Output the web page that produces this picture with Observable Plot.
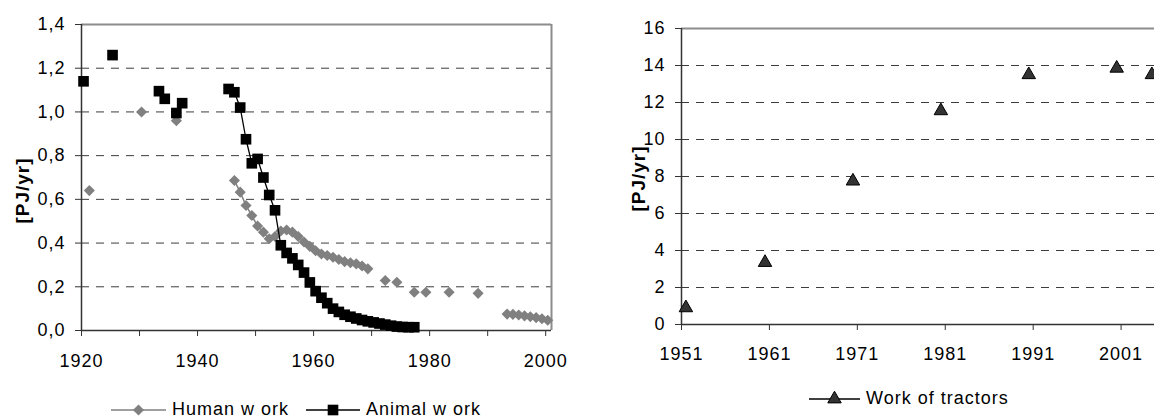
<!DOCTYPE html>
<html>
<head>
<meta charset="utf-8">
<script src="https://cdn.jsdelivr.net/npm/d3@7"></script>
<script src="https://cdn.jsdelivr.net/npm/@observablehq/plot@0.6"></script>
<style>
  html, body { margin: 0; padding: 0; background: #fff; overflow: hidden; }
  #figure { position: relative; width: 1154px; height: 419px; font-family: "Liberation Sans", Arial, sans-serif; }
  #left, #right, #legend { position: absolute; top: 0; }
  #left { left: 0; width: 570px; }
  #right { left: 570px; width: 584px; }
  #legend { left: 0; pointer-events: none; }
</style>
</head>
<body>
<div id="figure">
  <div id="left"></div>
  <div id="right"></div>
  <svg id="legend" width="1154" height="419"></svg>
</div>
<script>
// Human work, PJ/yr
const humanYears = [1921, 1930, 1936,
  1946, 1947, 1948, 1949, 1950, 1951, 1952, 1953, 1954, 1955, 1956, 1957,
  1958, 1959, 1960, 1961, 1962, 1963, 1964, 1965, 1966, 1967, 1968, 1969,
  1972, 1974, 1977, 1979, 1983, 1988,
  1993, 1994, 1995, 1996, 1997, 1998, 1999, 2000];
const humanWork = [0.64, 1.00, 0.96,
  0.686, 0.633, 0.572, 0.526, 0.478, 0.45, 0.42, 0.43, 0.455, 0.46, 0.45, 0.43,
  0.405, 0.385, 0.365, 0.35, 0.343, 0.335, 0.325, 0.315, 0.31, 0.305, 0.295, 0.282,
  0.229, 0.221, 0.175, 0.175, 0.175, 0.17,
  0.075, 0.074, 0.071, 0.067, 0.063, 0.059, 0.054, 0.047];

// Animal work, PJ/yr
const animalYears = [1920, 1925, 1933, 1934, 1936, 1937,
  1945, 1946, 1947, 1948, 1949, 1950, 1951, 1952, 1953, 1954, 1955, 1956,
  1957, 1958, 1959, 1960, 1961, 1962, 1963, 1964, 1965, 1966, 1967, 1968,
  1969, 1970, 1971, 1972, 1973, 1974, 1975, 1976, 1977];
const animalWork = [1.14, 1.26, 1.095, 1.06, 0.995, 1.04,
  1.105, 1.09, 1.02, 0.875, 0.765, 0.785, 0.70, 0.62, 0.55, 0.39, 0.355, 0.33,
  0.30, 0.265, 0.22, 0.18, 0.15, 0.125, 0.10, 0.085, 0.072, 0.063, 0.055, 0.048,
  0.042, 0.037, 0.032, 0.027, 0.022, 0.018, 0.016, 0.015, 0.015];

// Work of tractors, PJ/yr
const tractorYears = [1951, 1960, 1970, 1980, 1990, 2000, 2004];
const tractorWork = [0.9, 3.35, 7.75, 11.55, 13.5, 13.85, 13.5];

// Axis ticks
const leftYTicks = [0, 0.2, 0.4, 0.6, 0.8, 1.0, 1.2, 1.4];
const leftXTicks = [1920, 1930, 1940, 1950, 1960, 1970, 1980, 1990, 2000];
const leftXLabels = [1920, 1940, 1960, 1980, 2000];
const rightYTicks = [0, 2, 4, 6, 8, 10, 12, 14, 16];
const rightXTicks = [1951, 1961, 1971, 1981, 1991, 2001];

const seriesNames = ["Human w ork", "Animal w ork", "Work of tractors"];
const yTitle = "[PJ/yr]";

// annual values sit a little inside their year on the axis
const LEFT_SHIFT = 0.35;
const RIGHT_SHIFT = 0.5;

// marker radii (Plot symbol area = pi * r^2)
const R_DIAMOND = 5;
const R_SQUARE = 6;
const R_TRIANGLE = 5;

// rows with a NaN break wherever consecutive years are missing, so lines only join adjacent years
function rowsWithGaps(years, values) {
  const rows = [];
  years.forEach((yr, i) => {
    if (i > 0 && yr - years[i - 1] > 1) rows.push({year: NaN, value: NaN});
    rows.push({year: yr, value: values[i]});
  });
  return rows;
}
const humanRows = rowsWithGaps(humanYears, humanWork);
const animalRows = rowsWithGaps(animalYears, animalWork);
const tractorRows = tractorYears.map((yr, i) => ({year: yr, value: tractorWork[i]}));

const style = {
  fontFamily: "'Liberation Sans', Arial, sans-serif",
  fontSize: "18px",
  letterSpacing: "1px",
  background: "transparent",
  overflow: "visible"
};
const axisColor = "#333";
const frameGray = "#8c8c8c";
const gridColor = "#3c3c3c";
const dash = "8,7";
const commaFmt = d => d.toFixed(1).replace(".", ",");

const leftChart = Plot.plot({
  width: 570, height: 380,
  marginLeft: 81, marginRight: 19, marginTop: 24, marginBottom: 50,
  style,
  x: {domain: [1920, 2001]},
  y: {domain: [0, 1.4]},
  marks: [
    Plot.ruleY(leftYTicks.filter(v => v > 0 && v < 1.4), {stroke: gridColor, strokeDasharray: dash}),
    Plot.ruleY([1.4], {stroke: frameGray, strokeWidth: 2}),
    Plot.ruleX([2001], {stroke: frameGray, strokeWidth: 2}),
    Plot.axisY(leftYTicks, {tickSize: 6, tickPadding: 10, tickFormat: commaFmt, label: null, stroke: axisColor, fill: "#000"}),
    Plot.axisX(leftXTicks, {tickSize: 6, tickPadding: 18, tickFormat: d => leftXLabels.includes(d) ? String(d) : "", label: null, stroke: axisColor, fill: "#000"}),
    Plot.ruleX([1920], {stroke: axisColor, strokeWidth: 1.5}),
    Plot.ruleY([0], {stroke: axisColor, strokeWidth: 1.5}),
    Plot.line(humanRows, {x: d => d.year + LEFT_SHIFT, y: "value", stroke: "#808080", strokeWidth: 1.5}),
    Plot.dot(humanRows, {x: d => d.year + LEFT_SHIFT, y: "value", symbol: "diamond2", r: R_DIAMOND, fill: "#808080"}),
    Plot.line(animalRows, {x: d => d.year + LEFT_SHIFT, y: "value", stroke: "#000", strokeWidth: 1.3}),
    Plot.dot(animalRows, {x: d => d.year + LEFT_SHIFT, y: "value", symbol: "square", r: R_SQUARE, fill: "#000"}),
    Plot.text([yTitle], {frameAnchor: "left", rotate: -90, dx: -59, dy: 13, textAnchor: "middle", lineAnchor: "middle", fontWeight: "bold", fontSize: 19, fill: "#000"})
  ]
});
document.getElementById("left").append(leftChart);

const rightChart = Plot.plot({
  width: 584, height: 380,
  marginLeft: 111, marginRight: 0, marginTop: 28, marginBottom: 56,
  style,
  x: {domain: [1951, 2004.8]},
  y: {domain: [0, 16]},
  marks: [
    Plot.ruleY(rightYTicks.filter(v => v > 0 && v < 16), {stroke: gridColor, strokeDasharray: dash}),
    Plot.ruleY([16], {stroke: frameGray, strokeWidth: 2}),
    Plot.axisY(rightYTicks, {tickSize: 6, tickPadding: 10, tickFormat: d => String(d), label: null, stroke: axisColor, fill: "#000"}),
    Plot.axisX(rightXTicks, {tickSize: 6, tickPadding: 17, tickFormat: d => String(d), label: null, stroke: axisColor, fill: "#000"}),
    Plot.ruleX([1951], {stroke: axisColor, strokeWidth: 1.5}),
    Plot.ruleY([0], {stroke: axisColor, strokeWidth: 1.5}),
    Plot.dot(tractorRows, {x: d => d.year + RIGHT_SHIFT, y: "value", symbol: "triangle", r: R_TRIANGLE, fill: "#333", stroke: "#000", strokeWidth: 1}),
    Plot.text([yTitle], {frameAnchor: "left", rotate: -90, dx: -43, dy: 2, textAnchor: "middle", lineAnchor: "middle", fontWeight: "bold", fontSize: 19, fill: "#000"})
  ]
});
document.getElementById("right").append(rightChart);

// Legends below the two panels
const legend = d3.select("#legend");
const legendItems = [
  {name: seriesNames[0], x0: 111, x1: 166, y: 410, line: "#808080", symbol: d3.symbolDiamond2, r: R_DIAMOND, fill: "#808080", stroke: "none"},
  {name: seriesNames[1], x0: 306, x1: 360, y: 410, line: "#000", symbol: d3.symbolSquare, r: R_SQUARE, fill: "#000", stroke: "none"},
  {name: seriesNames[2], x0: 809, x1: 860, y: 399, line: "#000", symbol: d3.symbolTriangle, r: R_TRIANGLE, fill: "#333", stroke: "#000"}
];
const g = legend.selectAll("g").data(legendItems).join("g");
g.append("line")
  .attr("x1", d => d.x0).attr("x2", d => d.x1)
  .attr("y1", d => d.y).attr("y2", d => d.y)
  .attr("stroke", d => d.line).attr("stroke-width", 1.5);
g.append("path")
  .attr("transform", d => `translate(${(d.x0 + d.x1) / 2},${d.y})`)
  .attr("d", d => d3.symbol(d.symbol, Math.PI * d.r * d.r)())
  .attr("fill", d => d.fill).attr("stroke", d => d.stroke);
g.append("text")
  .attr("x", d => d.x1 + 6).attr("y", d => d.y + 5)
  .attr("font-family", "'Liberation Sans', Arial, sans-serif")
  .attr("font-size", 18)
  .attr("letter-spacing", "1px")
  .attr("fill", "#000")
  .text(d => d.name);
</script>
</body>
</html>
